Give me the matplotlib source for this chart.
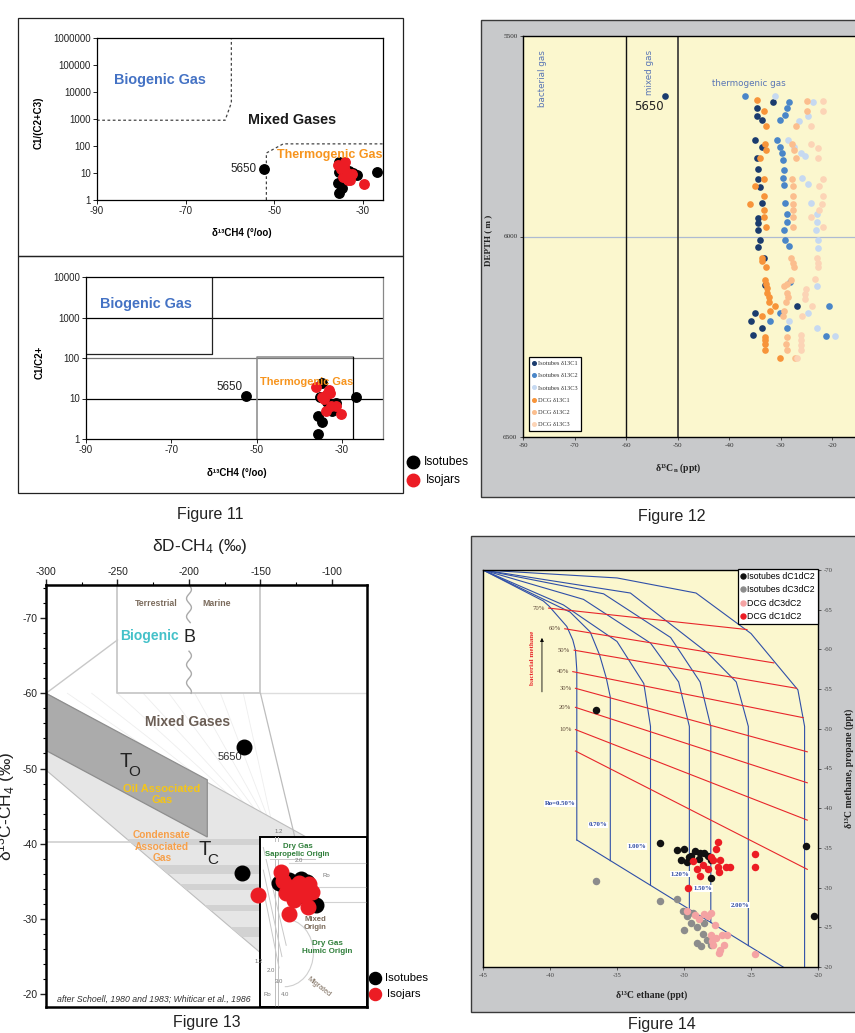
import numpy as np
import matplotlib
matplotlib.use("Agg")
from matplotlib import pyplot as plt
from matplotlib.patches import Rectangle, Polygon, Arc
from matplotlib.ticker import NullLocator, MultipleLocator

plt.rcParams['font.family'] = ['Liberation Sans', 'DejaVu Sans']
plt.rcParams['axes.unicode_minus'] = False
plt.rcParams['mathtext.fontset'] = 'custom'
plt.rcParams['mathtext.rm'] = 'Liberation Sans'
plt.rcParams['mathtext.it'] = 'Liberation Sans:italic'
plt.rcParams['mathtext.bf'] = 'Liberation Sans:bold'
SERIF = ['Liberation Serif', 'DejaVu Serif']

W, H = 855, 1033

# ---------------- Figure 11 : d13C CH4 vs wetness ratio ----------------
f11a_tube_x = [-52.4, -26.8, -35.5, -35.5, -35.6, -34.7, -35.5, -31.3, -34.6, -33.2, -32.2]
f11a_tube_y = [13.7, 11, 25, 11, 4.2, 2.7, 1.8, 8.5, 19, 12, 10]
f11a_jar_x = [-35.6, -34.2, -33.8, -34.5, -33.3, -29.8, -34.0, -34.9, -32.9, -33.6, -32.5]
f11a_jar_y = [20, 17, 11, 7.3, 5.5, 3.8, 26, 14, 5.5, 8, 9]

f11b_tube_x = [-52.6, -26.7, -35.7, -35.7, -34.6, -34.8, -35.1, -31.4, -32.3, -33.5]
f11b_tube_y = [11.5, 11, 1.3, 3.6, 2.7, 24, 11, 7.6, 4.8, 8]
f11b_jar_x = [-36.0, -33.0, -34.3, -32.5, -31.5, -30.2, -33.6, -34.8, -33.7, -32.8]
f11b_jar_y = [19.5, 16, 9.5, 6.5, 6.5, 4.1, 13, 11, 5, 14]

log_ticks_a = [1, 10, 100, 1000, 10000, 100000, 1000000]
log_ticks_b = [1, 10, 100, 1000, 10000]

# ---------------- Figure 12 : isotopes vs depth ----------------
iso_c1_d = [5650, 5664, 5679, 5700, 5710, 5759, 5776, 5805, 5832, 5857, 5876, 5917, 5955,
            5967, 5984, 6009, 6025, 6054, 6121, 6173, 6192, 6210, 6228, 6246]
iso_c1_v = [-52.4, -31.4, -34.6, -34.6, -33.6, -34.9, -33.6, -34.6, -34.3, -34.4, -34.0, -33.6, -34.3,
            -34.4, -34.4, -34.0, -34.3, -33.3, -33.0, -26.7, -34.9, -35.7, -33.6, -35.3]
iso_c2_d = [5650, 5664, 5680, 5697, 5709, 5759, 5776, 5793, 5808, 5833, 5855, 5872, 5916,
            5943, 5964, 5984, 6009, 6024, 6113, 6173, 6192, 6210, 6228, 6247]
iso_c2_v = [-36.8, -28.3, -28.8, -29.1, -30.1, -30.7, -30.1, -29.8, -29.6, -29.4, -29.6, -29.4, -29.1,
            -28.7, -28.7, -29.4, -29.1, -28.3, -28.2, -20.5, -30.1, -32.1, -28.7, -21.1]
iso_c3_d = [5650, 5664, 5700, 5711, 5759, 5776, 5793, 5800, 5855, 5868, 5916, 5943, 5964,
            5984, 6009, 6028, 6123, 6192, 6210, 6228, 6247]
iso_c3_v = [-31.1, -23.7, -24.6, -26.5, -28.6, -27.3, -26.1, -25.3, -25.8, -24.6, -24.0, -23.0, -23.0,
            -23.1, -22.7, -22.7, -23.0, -24.6, -28.4, -23.0, -19.4]
dcg_c1_d = [5660, 5688, 5724, 5770, 5785, 5804, 5857, 5873, 5900, 5918, 5933, 5951, 5976, 6054, 6062,
            6075, 6108, 6118, 6129, 6140, 6150, 6163, 6173, 6187, 6198, 6250, 6258, 6267, 6282, 6302]
dcg_c1_v = [-34.5, -33.2, -32.9, -33.0, -32.9, -33.9, -33.2, -35.0, -33.3, -35.9, -33.2, -33.2, -32.9,
            -33.6, -33.5, -32.8, -33.0, -32.9, -32.6, -32.7, -32.3, -32.3, -31.0, -32.0, -33.6,
            -33.0, -33.0, -33.0, -33.0, -30.1]
dcg_c2_d = [5662, 5688, 5724, 5770, 5785, 5805, 5857, 5873, 5900, 5918, 5933, 5951, 5976, 6054,
            6065, 6075, 6108, 6118, 6123, 6141, 6152, 6163, 6187, 6198, 6250, 6267, 6282, 6302]
dcg_c2_v = [-24.9, -24.9, -26.9, -27.7, -27.3, -27.0, -27.7, -27.5, -27.5, -27.6, -27.5, -27.5, -27.5,
            -28.0, -27.5, -27.3, -28.0, -28.8, -29.3, -28.7, -28.5, -29.0, -29.3, -29.5, -28.7,
            -29.0, -28.8, -27.2]
dcg_c3_d = [5662, 5688, 5724, 5770, 5780, 5805, 5857, 5873, 5900, 5918, 5933, 5951, 5976, 6054,
            6065, 6075, 6105, 6130, 6143, 6155, 6173, 6198, 6245, 6258, 6270, 6283, 6302]
dcg_c3_v = [-21.7, -21.8, -24.1, -24.0, -22.7, -22.8, -21.7, -22.5, -21.8, -21.9, -22.5, -24.0, -21.7,
            -22.9, -22.8, -22.7, -23.3, -25.0, -25.2, -25.3, -23.8, -25.9, -26.1, -26.0, -26.1,
            -26.1, -26.7]

# ---------------- Figure 13 : dD vs d13C CH4 ----------------
f13_tube_x = [-161.3, -162.7, -137, -133, -130, -126, -122, -117.2, -116, -120, -111.2, -128]
f13_tube_y = [-52.8, -36.1, -34.8, -35.0, -35.2, -34.0, -35.3, -34.9, -33.5, -33.0, -31.8, -33.8]
f13_jar_x = [-152, -135.7, -134, -132.2, -128, -122.8, -126.4, -124, -120, -117.1, -113.8, -116, -130, -119]
f13_jar_y = [-33.2, -36.3, -35.0, -33.4, -34.2, -34.8, -32.5, -33.6, -34.2, -31.6, -33.6, -34.6, -30.6, -33.0]

# ---------------- Figure 14 : d13C ethane vs methane / propane ----------------
tube_c1c2_x = [-36.6, -31.8, -30.5, -30.0, -30.2, -29.8, -29.5, -29.2, -28.8, -28.5, -28.9, -28.2,
               -28.0, -29.6, -28.0, -20.9, -20.3]
tube_c1c2_y = [-52.4, -35.6, -34.7, -34.8, -33.5, -33.2, -34.0, -34.6, -34.3, -34.4, -33.6, -34.0,
               -33.5, -33.8, -31.2, -35.2, -26.4]
tube_c3c2_x = [-36.6, -31.8, -30.5, -30.1, -29.8, -30.0, -29.5, -29.0, -28.6, -29.0, -28.7, -28.3,
               -28.0, -28.5, -29.3]
tube_c3c2_y = [-30.8, -28.3, -28.6, -27.0, -26.4, -24.6, -25.6, -25.0, -24.2, -23.0, -22.6, -23.4,
               -22.8, -25.5, -26.8]
dcg_c3c2_x = [-29.75, -29.2, -28.9, -28.5, -28.2, -28.0, -27.7, -28.0, -27.6, -27.2, -26.8, -27.8,
              -27.3, -27.0, -27.4, -24.7, -27.9]
dcg_c3c2_y = [-27.0, -26.6, -26.0, -26.7, -26.4, -26.8, -25.3, -24.0, -23.6, -24.0, -24.0, -22.8,
              -22.2, -22.8, -21.8, -21.6, -23.3]
dcg_c1c2_x = [-27.5, -27.6, -24.7, -24.7, -29.7, -29.3, -29.0, -28.8, -28.55, -28.2, -27.8, -27.5,
              -27.3, -26.9, -26.6, -28.0, -27.4]
dcg_c1c2_y = [-35.7, -34.9, -34.2, -32.6, -30.0, -33.4, -32.4, -31.4, -32.8, -32.3, -33.5, -32.6,
              -33.5, -32.6, -32.6, -33.8, -32.0]

# maturity curves (Ro) and bacterial mixing lines
ro_curves = [
    [(-45, -70), (-40.5, -66.1), (-40.1, -65.5), (-38.75, -62.9), (-38.3, -61.2), (-38.1, -59.9), (-38.0, -57.4), (-38.0, -36.0)],
    [(-45, -70), (-38.5, -64.7), (-37.0, -62.2), (-36.3, -59.3), (-35.8, -56.4), (-35.5, -54.0), (-35.5, -33.4)],
    [(-45, -70), (-39.0, -65.6), (-35.0, -61.0), (-33.0, -55.7), (-32.5, -50.3), (-32.5, -30.3)],
    [(-45, -70), (-37.5, -66.3), (-32.5, -60.8), (-30.4, -55.9), (-29.6, -50.3), (-29.6, -27.3)],
    [(-45, -70), (-36.0, -67.0), (-31.0, -61.5), (-28.8, -55.9), (-28.0, -50.3), (-28.0, -25.6)],
    [(-45, -70), (-34.0, -67.1), (-28.2, -59.5), (-26.1, -55.9), (-25.2, -50.3), (-25.2, -22.7)],
    [(-45, -70), (-35.0, -69.0), (-29.1, -67.1), (-25.0, -62.0), (-21.5, -54.9), (-21.0, -50.3), (-21.0, -20.0)],
]
ro_base = [(-38.0, -36.0), (-22.6, -20.0)]
ro_labels = ['Ro=0.50%', '0.70%', '1.00%', '1.20%', '1.50%', '2.00%']
ro_label_pos = [(-39.25, -40.6), (-36.4, -37.9), (-33.5, -35.2), (-30.3, -31.7), (-28.6, -29.9), (-25.8, -27.8)]
mix_labels = ['70%', '60%', '50%', '40%', '30%', '20%', '10%', '']
mix_start = [(-40.1, -65.2), (-38.9, -62.6), (-38.2, -59.9), (-38.3, -57.2), (-38.1, -55.1),
             (-38.1, -52.7), (-38.1, -49.9), (-38.1, -47.2)]
mix_end = [(-25.3, -62.5), (-23.3, -58.3), (-21.6, -55.1), (-21.1, -51.4), (-20.8, -47.1),
           (-20.8, -43.2), (-20.8, -38.5), (-20.8, -32.3)]


def rect(l, t, r, b):
    return [l / W, 1 - b / H, (r - l) / W, (b - t) / H]


fig = plt.figure(figsize=(W / 100, H / 100), dpi=100)

# page layer in pixel units: frames, grey panels, captions, side legends
bg = fig.add_axes([0, 0, 1, 1])
bg.set_xlim(0, W)
bg.set_ylim(H, 0)
bg.axis('off')
bg.add_patch(Rectangle((18, 18), 385, 238, fill=False, ec='#222222', lw=0.9))
bg.add_patch(Rectangle((18, 256), 385, 237, fill=False, ec='#222222', lw=0.9))
bg.add_patch(Rectangle((481, 20), 390, 477, fc='#C8C9CB', ec='#3A3A3A', lw=1.0))
bg.add_patch(Rectangle((471, 536), 400, 476, fc='#C8C9CB', ec='#3A3A3A', lw=1.0))
for txt, x, y in [('Figure 11', 210, 514), ('Figure 12', 672, 516),
                  ('Figure 13', 207, 1023), ('Figure 14', 662, 1025)]:
    bg.text(x, y, txt, ha='center', va='center', fontsize=11.5, color='#222222')

bg.plot([413], [462], 'o', color='black', ms=9)
bg.plot([413], [480], 'o', color='#EC1C24', ms=9)
bg.text(424, 462, 'Isotubes', va='center', fontsize=8.6)
bg.text(426, 480, 'Isojars', va='center', fontsize=8.6)
bg.plot([375], [978], 'o', color='black', ms=8.7)
bg.plot([375], [994], 'o', color='#EC1C24', ms=8.7)
bg.text(385, 978, 'Isotubes', va='center', fontsize=8.2)
bg.text(387, 994, 'Isojars', va='center', fontsize=8.2)

# axis titles placed in page units
bg.text(39, 123, 'C1/(C2+C3)', rotation=90, ha='center', va='center', fontsize=7, fontweight='bold')
bg.text(242, 233, 'δ¹³CH4 (°/oo)', ha='center', va='center', fontsize=7, fontweight='bold')
bg.text(40, 362, 'C1/C2+', rotation=90, ha='center', va='center', fontsize=7, fontweight='bold')
bg.text(237, 473, 'δ¹³CH4 (°/oo)', ha='center', va='center', fontsize=7, fontweight='bold')
bg.text(488, 240, 'DEPTH ( m )', rotation=90, ha='center', va='center', fontsize=6.5,
        fontweight='bold', family=SERIF, color='#222222')
bg.text(678, 468, r'δ¹³C$_\mathregular{n}$ (ppt)', ha='center', va='center', fontsize=7,
        fontweight='bold', family=SERIF, color='#222222')
bg.text(200, 546, r'δD-CH$_\mathregular{4}$ (‰)', ha='center', va='center', fontsize=12.5, color='#222222')
bg.text(6, 806, r'δ$^\mathregular{13}$C-CH$_\mathregular{4}$ (‰)', rotation=90, ha='center', va='center',
        fontsize=12.5, color='#222222')
bg.text(652, 995, 'δ¹³C ethane (ppt)', ha='center', va='center', fontsize=7,
        fontweight='bold', family=SERIF, color='#222222')
bg.text(849, 768, 'δ¹³C methane, propane (ppt)', rotation=90, ha='center', va='center', fontsize=7,
        fontweight='bold', family=SERIF, color='#222222')


def style_fig11(ax, yt):
    ax.set_yscale('log')
    ax.set_xticks([-90, -70, -50, -30])
    ax.set_yticks(yt)
    ax.set_yticklabels([str(v) for v in yt])
    ax.yaxis.set_minor_locator(NullLocator())
    ax.tick_params(labelsize=7, length=3, width=0.7, pad=1.5, colors='#222222')
    for s in ax.spines.values():
        s.set_linewidth(0.9)


# ---- Figure 11, upper panel
ax = fig.add_axes(rect(97, 38, 383, 200))
ax.set_xlim(-90, -25.5)
ax.set_ylim(1, 1e6)
style_fig11(ax, log_ticks_a)
ax.plot([-90, -61.1, -59.7, -59.7], [900, 900, 4000, 1e6], ls=(0, (2.2, 2)), color='#444444', lw=0.9)
ax.plot([-51.8, -51.8, -48, -25.5], [1, 55, 120, 120], ls=(0, (2.2, 2)), color='#444444', lw=0.9)
ax.text(-75.8, 2.8e4, 'Biogenic Gas', ha='center', va='center', fontsize=10.4, fontweight='bold', color='#4472C4')
ax.text(-45.9, 920, 'Mixed Gases', ha='center', va='center', fontsize=10.4, fontweight='bold', color='#1A1A1A')
ax.text(-37.6, 46, 'Thermogenic Gas', ha='center', va='center', fontsize=9, fontweight='bold', color='#F7941D')
ax.text(-54.0, 13.7, '5650', ha='right', va='center', fontsize=8.4, color='#222222')
ax.plot(f11a_tube_x, f11a_tube_y, 'o', color='black', ms=6.8, ls='none')
ax.plot(f11a_jar_x, f11a_jar_y, 'o', color='#EC1C24', ms=6.8, ls='none')

# ---- Figure 11, lower panel
ax = fig.add_axes(rect(86, 277, 383, 439))
ax.set_xlim(-90, -20.4)
ax.set_ylim(1, 1e4)
style_fig11(ax, log_ticks_b)
ax.spines['right'].set_color('#888888')
for yv, c in [(10, 'black'), (100, '#777777'), (1000, 'black')]:
    ax.axhline(yv, color=c, lw=0.9)
ax.plot([-90, -60.5, -60.5], [125, 125, 1e4], color='#222222', lw=0.9)
ax.plot([-50, -50, -27.4], [1, 108, 108], color='#888888', lw=1.1)
ax.plot([-27.4, -27.4], [1, 108], color='black', lw=0.9)
ax.text(-75.9, 2150, 'Biogenic Gas', ha='center', va='center', fontsize=10.4, fontweight='bold', color='#4472C4')
ax.text(-38.4, 25, 'Thermogenic Gas', ha='center', va='center', fontsize=7.9, fontweight='bold', color='#F7941D')
ax.text(-53.3, 19, '5650', ha='right', va='center', fontsize=8.4, color='#222222')
ax.plot(f11b_tube_x, f11b_tube_y, 'o', color='black', ms=6.8, ls='none')
ax.plot(f11b_jar_x, f11b_jar_y, 'o', color='#EC1C24', ms=6.8, ls='none')

# ---- Figure 12, depth profile
ax = fig.add_axes(rect(523, 36, 883.5, 437))
ax.set_facecolor('#FBF7CE')
ax.set_xlim(-80, -10)
ax.set_ylim(6500, 5500)
ax.set_xticks(range(-80, -19, 10))
ax.set_yticks([5500, 6000, 6500])
ax.tick_params(labelsize=5.2, length=2, width=0.6, pad=2, colors='#333333')
for lab in ax.get_xticklabels() + ax.get_yticklabels():
    lab.set_family(SERIF)
for s in ax.spines.values():
    s.set_linewidth(1.0)
ax.axhline(6000, color='#AEBBD2', lw=0.9)
ax.axvline(-60, color='#111111', lw=1.0)
ax.axvline(-50, color='#333333', lw=1.2)
ax.text(-76.2, 5535, 'bacterial gas', rotation=90, ha='center', va='top', fontsize=6.3,
        family='DejaVu Sans', color='#5A76B5')
ax.text(-55.5, 5535, 'mixed gas', rotation=90, ha='center', va='top', fontsize=6.3,
        family='DejaVu Sans', color='#5A76B5')
ax.text(-43.3, 5630, 'thermogenic gas', ha='left', va='bottom', fontsize=6.3,
        family='DejaVu Sans', color='#5A76B5')
ax.text(-55.6, 5675, '5650', ha='center', va='center', fontsize=8.5, family='DejaVu Sans', color='#222222')
series12 = [
    (iso_c1_v, iso_c1_d, '#1B3C6E', 'Isotubes δ13C1'),
    (iso_c2_v, iso_c2_d, '#4A86C8', 'Isotubes δ13C2'),
    (iso_c3_v, iso_c3_d, '#C6D9F1', 'Isotubes δ13C3'),
    (dcg_c1_v, dcg_c1_d, '#F7943A', 'DCG δ13C1'),
    (dcg_c2_v, dcg_c2_d, '#FBBE8E', 'DCG δ13C2'),
    (dcg_c3_v, dcg_c3_d, '#FCD4B6', 'DCG δ13C3'),
]
handles = []
for vals, dep, col, lab in series12:
    ax.plot(vals, dep, 'o', color=col, ms=4.8, mec='none', ls='none')
    handles.append(plt.Line2D([], [], marker='o', color=col, ms=2.6, ls='none', label=lab))
leg = ax.legend(handles=handles, loc='lower left', bbox_to_anchor=(529 / W, 1 - 431 / H),
                bbox_transform=fig.transFigure, prop={'family': SERIF, 'size': 4.6},
                frameon=True, fancybox=False, edgecolor='black', framealpha=1,
                handlelength=0.5, handletextpad=0.3, labelspacing=1.05, borderpad=0.6, borderaxespad=0)
leg.get_frame().set_linewidth(0.9)
for t in leg.get_texts():
    t.set_color('#333333')

# ---- Figure 13, Schoell / Whiticar genetic diagram
ax = fig.add_axes(rect(46, 585, 367, 1007))
ax.set_xlim(-300, -75.5)
ax.set_ylim(-18.3, -74.4)
ax.xaxis.tick_top()
ax.set_xticks([-300, -250, -200, -150, -100])
ax.set_yticks([-70, -60, -50, -40, -30, -20])
ax.xaxis.set_minor_locator(MultipleLocator(25))
ax.yaxis.set_minor_locator(MultipleLocator(2))
ax.tick_params(which='major', labelsize=7.5, length=4, width=1.0, pad=2, colors='#222222')
ax.tick_params(which='minor', length=2.5, width=0.8)
for s in ax.spines.values():
    s.set_linewidth(1.8)

# faint mixing rays under the shaded fields
for x0 in [-285, -268, -250, -232, -214, -196, -178, -162]:
    ax.plot([x0, -140], [-60, -41], color='#EEEEEE', lw=0.6, zorder=0.5)

light = Polygon([(-300, -60), (-118, -40.9), (-150, -40.9), (-150, -25.5), (-300, -49.8)],
                closed=True, fc='#E6E6E6', ec='#BDBDBD', lw=0.8, zorder=1)
ax.add_patch(light)
for y0, y1 in [(-40.6, -39.9), (-37.2, -36.0), (-34.6, -33.8), (-31.9, -31.0), (-29.0, -27.6)]:
    band = ax.fill_between([-300, -150], y0, y1, color='#D2D2D2', lw=0, zorder=1.2)
    band.set_clip_path(light)
ax.plot([-300, -150], [-40.3, -40.3], color='#D0D0D0', lw=1.2, zorder=1.1)
ax.add_patch(Polygon([(-300, -60), (-187.2, -48.5), (-187.2, -40.9), (-300, -52.4)],
                     closed=True, fc='#ABABAB', ec='#8E8E8E', lw=0.9, zorder=1.5))

ax.plot([-250, -250, -150, -150], [-74.4, -60, -60, -74.4], color='#C8C8C8', lw=1.3, zorder=1)
ax.plot([-150, -75.5], [-60, -60], color='#DDDDDD', lw=1.0, zorder=1)
ax.plot([-300, -250], [-60, -67.1], color='#C8C8C8', lw=1.0, zorder=1)
ax.plot([-150, -126], [-60, -40.9], color='#BDBDBD', lw=0.9, zorder=1)

# wavy divide between terrestrial and marine
for ya, yb in [(-74.4, -69.4), (-65.6, -60.0)]:
    wy = np.linspace(ya, yb, 60)
    ax.plot(-200 + 1.7 * np.sin(2 * np.pi * (wy - ya) / 2.4), wy, color='#AAAAAA', lw=1.0, zorder=1)

# dry gas field with maturity lines
ax.add_patch(Rectangle((-150, -40.9), 74.5, 22.6, fc='white', ec='black', lw=1.4, zorder=2))
for yh in [-37.4, -34.3, -32.3]:
    ax.plot([-130, -75.5], [yh, yh], color='#D2D2D2', lw=0.8, zorder=2.1)
for xv in [-140, -137.5]:
    ax.plot([xv, xv], [-40.9, -18.3], color='#BFBFBF', lw=0.7, zorder=2.1)
for (xa, ya), (xb, yb) in [((-148, -39.5), (-132, -26.5)), ((-148, -36.5), (-135, -25.0)),
                           ((-147, -33.0), (-137, -23.5)), ((-143, -38.0), (-112, -38.0))]:
    ax.plot([xa, xb], [ya, yb], color='#C8C8C8', lw=0.7, zorder=2.1)
ax.add_patch(Arc((-133, -25.5), 40, 9, theta1=-90, theta2=90, color='#CFCFCF', lw=0.8, zorder=2.1))

ax.text(-124, -39.1, 'Dry Gas\nSapropelic Origin', ha='center', va='center', fontsize=5.6, fontweight='bold',
        color='#2F7F3A', linespacing=1.3, zorder=3, bbox=dict(fc='white', ec='none', pad=0.4))
ax.text(-111.6, -29.4, 'Mixed\nOrigin', ha='center', va='center', fontsize=5.6, fontweight='bold',
        color='#7A6A5A', linespacing=1.3, zorder=3)
ax.text(-103, -26.2, 'Dry Gas\nHumic Origin', ha='center', va='center', fontsize=5.8, fontweight='bold',
        color='#2F7F3A', linespacing=1.3, zorder=3)
ax.text(-109, -21.0, 'Migrated', rotation=-38, ha='center', va='center', fontsize=5.2,
        color='#7A6A5A', zorder=3)
for s, x, y in [('1.2', -137, -41.6), ('2.0', -123, -37.8), ('Ro', -104, -35.8), ('1.2', -151, -24.3),
                ('2.0', -143, -23.2), ('3.0', -137, -21.7), ('Ro', -145, -19.9), ('4.0', -133, -20.0)]:
    ax.text(x, y, s, ha='center', va='center', fontsize=4.3, color='#777777', zorder=3)

ax.text(-223, -71.9, 'Terrestrial', ha='center', va='center', fontsize=6.3, fontweight='bold', color='#7B6B5C')
ax.text(-180.5, -71.9, 'Marine', ha='center', va='center', fontsize=6.3, fontweight='bold', color='#7B6B5C')
ax.text(-207, -67.6, 'Biogenic', ha='right', va='center', fontsize=10, fontweight='bold', color='#44C1C9')
ax.text(-199.7, -67.4, 'B', ha='center', va='center', fontsize=13, color='#222222', zorder=3,
        bbox=dict(fc='white', ec='none', pad=0.5))
ax.text(-201, -56.2, 'Mixed Gases', ha='center', va='center', fontsize=10, fontweight='bold', color='#6B5E55')
ax.text(-244, -51.0, 'T', ha='center', va='center', fontsize=14.5, color='#222222', zorder=3)
ax.text(-238.5, -49.6, 'O', ha='center', va='center', fontsize=11, color='#222222', zorder=3)
ax.text(-219, -46.6, 'Oil Associated\nGas', ha='center', va='center', fontsize=8, fontweight='bold',
        color='#F5C518', linespacing=1.1, zorder=3)
ax.text(-219, -39.6, 'Condensate\nAssociated\nGas', ha='center', va='center', fontsize=7.3,
        fontweight='bold', color='#F7A04A', linespacing=1.2, zorder=3)
ax.text(-189, -39.3, 'T', ha='center', va='center', fontsize=14.5, color='#222222', zorder=3)
ax.text(-183.5, -37.9, 'C', ha='center', va='center', fontsize=11, color='#222222', zorder=3)
ax.text(-171.5, -51.6, '5650', ha='center', va='center', fontsize=8, color='#333333', zorder=3)
ax.text(-292.5, -19.3, 'after Schoell, 1980 and 1983; Whiticar et al., 1986', ha='left', va='center',
        fontsize=6.3, style='italic', color='#333333', zorder=3)
ax.plot(f13_tube_x, f13_tube_y, 'o', color='black', ms=10.5, ls='none', zorder=4)
ax.plot(f13_jar_x, f13_jar_y, 'o', color='#EC1C24', ms=10.5, ls='none', zorder=4)

# ---- Figure 14, ethane vs methane/propane with Ro and mixing grids
ax = fig.add_axes(rect(483, 570, 818, 967))
ax.set_facecolor('#FBF7CE')
ax.set_xlim(-45, -20)
ax.set_ylim(-20, -70)
ax.yaxis.tick_right()
ax.set_xticks(range(-45, -19, 5))
ax.set_yticks(range(-70, -19, 5))
ax.tick_params(labelsize=4.8, length=2, width=0.6, pad=2, colors='#444444')
for lab in ax.get_xticklabels() + ax.get_yticklabels():
    lab.set_family(SERIF)
for s in ax.spines.values():
    s.set_linewidth(1.0)
for crv in ro_curves:
    ax.plot([p[0] for p in crv], [p[1] for p in crv], color='#2F4FA8', lw=0.8)
ax.plot([p[0] for p in ro_base], [p[1] for p in ro_base], color='#2F4FA8', lw=0.8)
for lab, (x0, y0), (x1, y1) in zip(mix_labels, mix_start, mix_end):
    ax.plot([x0, x1], [y0, y1], color='#E8262B', lw=0.8)
    if lab:
        ax.text(x0 - 0.3, y0, lab, ha='right', va='center', fontsize=4.8, family=SERIF, color='#5B4636')
for lab, (x, y) in zip(ro_labels, ro_label_pos):
    ax.text(x, y, lab, ha='center', va='center', fontsize=4.9, fontweight='bold', family=SERIF,
            color='#2B47A0', zorder=3, bbox=dict(fc='white', ec='none', pad=0.6))
ax.annotate('', xy=(-40.6, -61.8), xytext=(-40.6, -54.3),
            arrowprops=dict(arrowstyle='-|>', color='black', lw=0.6, mutation_scale=5))
ax.text(-41.3, -58.9, 'bacterial methane', rotation=90, ha='center', va='center', fontsize=5,
        fontweight='bold', family=SERIF, color='#E8262B')
pts = [
    (tube_c1c2_x, tube_c1c2_y, '#111111', 'Isotubes dC1dC2'),
    (tube_c3c2_x, tube_c3c2_y, '#8C8C8C', 'Isotubes dC3dC2'),
    (dcg_c3c2_x, dcg_c3c2_y, '#F4A3A3', 'DCG dC3dC2'),
    (dcg_c1c2_x, dcg_c1c2_y, '#EC1C24', 'DCG dC1dC2'),
]
handles = []
for xs, ys, col, lab in pts:
    ax.plot(xs, ys, 'o', color=col, ms=5.4, mec='none', ls='none', zorder=4)
    handles.append(plt.Line2D([], [], marker='o', color=col, ms=3.6, ls='none', label=lab))
leg = ax.legend(handles=handles, loc='upper right', bbox_to_anchor=(818 / W, 1 - 569 / H),
                bbox_transform=fig.transFigure, prop={'size': 6.3}, frameon=True, fancybox=False,
                edgecolor='black', framealpha=1, handlelength=0.5, handletextpad=0.2,
                labelspacing=0.5, borderpad=0.35, borderaxespad=0)
leg.get_frame().set_linewidth(0.9)
leg.set_zorder(5)

fig.savefig('out.png', dpi=100)
